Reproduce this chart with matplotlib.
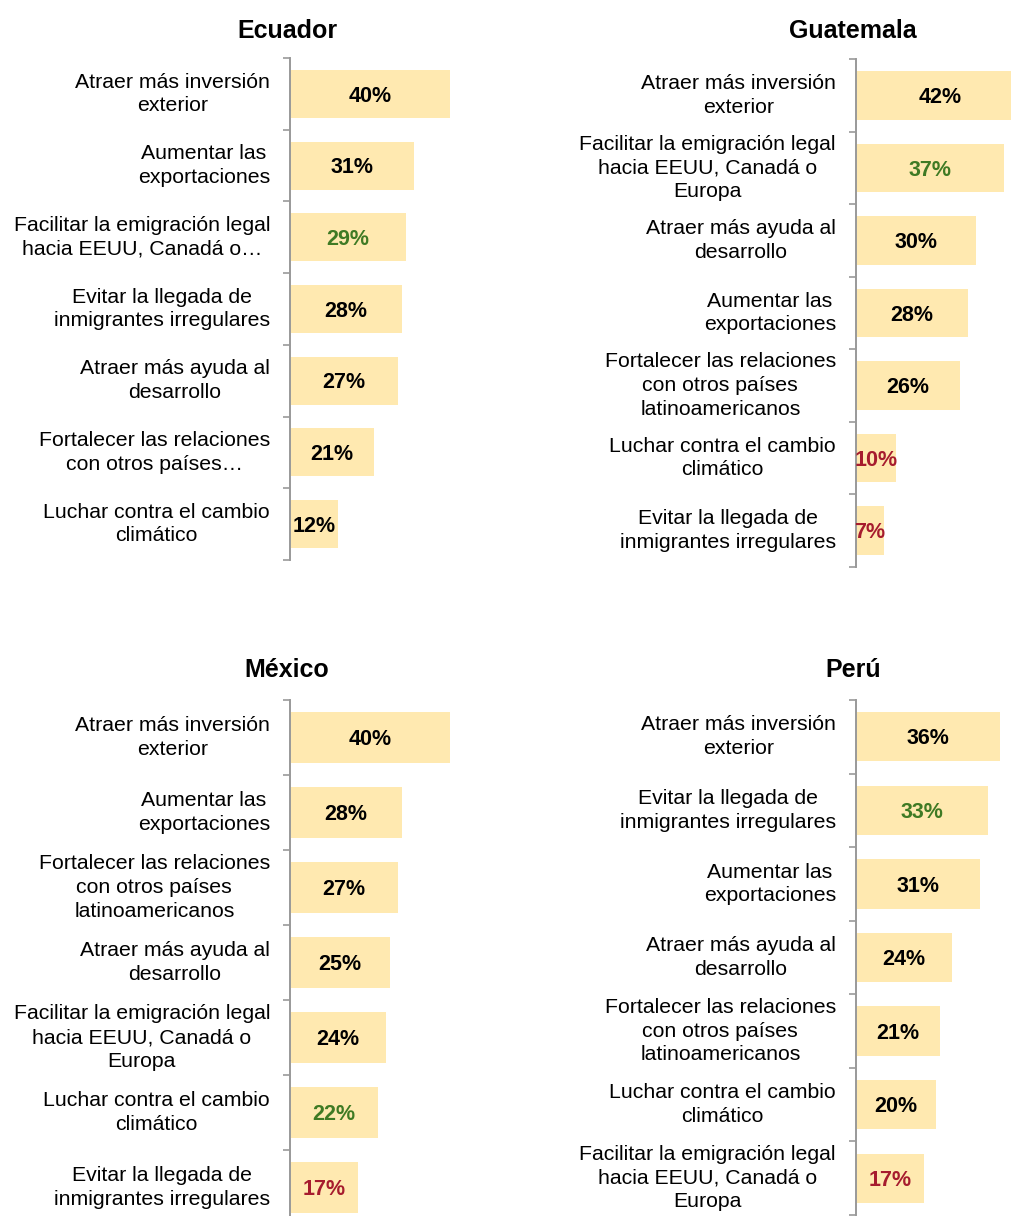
import numpy as np
import matplotlib
matplotlib.use('Agg')
import matplotlib.pyplot as plt
from matplotlib.transforms import ScaledTranslation

plt.rcParams['font.family'] = ['Liberation Sans', 'DejaVu Sans']

# datos por país (porcentajes)
ecu_cats = ['Atraer más inversión\nexterior',
            'Aumentar las\nexportaciones',
            'Facilitar la emigración legal\nhacia EEUU, Canadá o…',
            'Evitar la llegada de\ninmigrantes irregulares',
            'Atraer más ayuda al\ndesarrollo',
            'Fortalecer las relaciones\ncon otros países…',
            'Luchar contra el cambio\nclimático']
ecu_vals = [40, 31, 29, 28, 27, 21, 12]
ecu_tone = ['', '', 'alto', '', '', '', '']

gua_cats = ['Atraer más inversión\nexterior',
            'Facilitar la emigración legal\nhacia EEUU, Canadá o\nEuropa',
            'Atraer más ayuda al\ndesarrollo',
            'Aumentar las\nexportaciones',
            'Fortalecer las relaciones\ncon otros países\nlatinoamericanos',
            'Luchar contra el cambio\nclimático',
            'Evitar la llegada de\ninmigrantes irregulares']
gua_vals = [42, 37, 30, 28, 26, 10, 7]
gua_tone = ['', 'alto', '', '', '', 'bajo', 'bajo']

mex_cats = ['Atraer más inversión\nexterior',
            'Aumentar las\nexportaciones',
            'Fortalecer las relaciones\ncon otros países\nlatinoamericanos',
            'Atraer más ayuda al\ndesarrollo',
            'Facilitar la emigración legal\nhacia EEUU, Canadá o\nEuropa',
            'Luchar contra el cambio\nclimático',
            'Evitar la llegada de\ninmigrantes irregulares']
mex_vals = [40, 28, 27, 25, 24, 22, 17]
mex_tone = ['', '', '', '', '', 'alto', 'bajo']

per_cats = ['Atraer más inversión\nexterior',
            'Evitar la llegada de\ninmigrantes irregulares',
            'Aumentar las\nexportaciones',
            'Atraer más ayuda al\ndesarrollo',
            'Fortalecer las relaciones\ncon otros países\nlatinoamericanos',
            'Luchar contra el cambio\nclimático',
            'Facilitar la emigración legal\nhacia EEUU, Canadá o\nEuropa']
per_vals = [36, 33, 31, 24, 21, 20, 17]
per_tone = ['', 'alto', '', '', '', '', 'bajo']

W, H = 1012, 1216
BAR = '#FFE9B0'
TONES = {'': 'black', 'alto': '#3F7A24', 'bajo': '#A61C2E'}
XMAX = 42

fig = plt.figure(figsize=(W / 100, H / 100), dpi=100)
# etiquetas de categoría: 20 px a la izquierda del eje
desplaza = ScaledTranslation(-0.20, 0.0, fig.dpi_scale_trans)


def panel(title, cats, vals, tone, x0, y0, y1, ytitle):
    # caja en píxeles: x0 = eje vertical, y0..y1 = alto del eje
    ax = fig.add_axes([x0 / W, 1 - y1 / H, 168 / W, (y1 - y0) / H])
    n = len(vals)
    pos = np.arange(n)
    ax.barh(pos, vals, height=0.67, color=BAR, zorder=2)
    for p, v, t in zip(pos, vals, tone):
        ax.text(v / 2, p + 0.03, '%d%%' % v, ha='center', va='center',
                fontsize=15.5, fontweight='bold', color=TONES[t], zorder=3)
    tr = ax.get_yaxis_transform() + desplaza
    for p, c in zip(pos, cats):
        ax.text(0, p, c, transform=tr, ha='right', va='center',
                multialignment='center', fontsize=15.3, linespacing=1.31,
                clip_on=False)
    ax.set_xlim(0, XMAX)
    ax.set_ylim(n - 0.5, -0.5)
    ax.set_yticks([])
    ax.set_yticks(np.arange(n + 1) - 0.5, minor=True)
    ax.tick_params(axis='y', which='minor', length=5, width=1.2,
                   color='#999999')
    ax.set_xticks([])
    for s in ['top', 'right', 'bottom']:
        ax.spines[s].set_visible(False)
    ax.spines['left'].set_color('#999999')
    ax.spines['left'].set_linewidth(1.4)
    fig.text((x0 - 3) / W, 1 - ytitle / H, title, ha='center',
             va='baseline', fontsize=18, fontweight='bold')


panel('Ecuador', ecu_cats, ecu_vals, ecu_tone, 290, 58, 560, 38)
panel('Guatemala', gua_cats, gua_vals, gua_tone, 856, 59, 567, 38)
panel('México', mex_cats, mex_vals, mex_tone, 290, 700, 1225, 677)
panel('Perú', per_cats, per_vals, per_tone, 856, 700, 1215, 677)

fig.savefig('out.png', dpi=100)
